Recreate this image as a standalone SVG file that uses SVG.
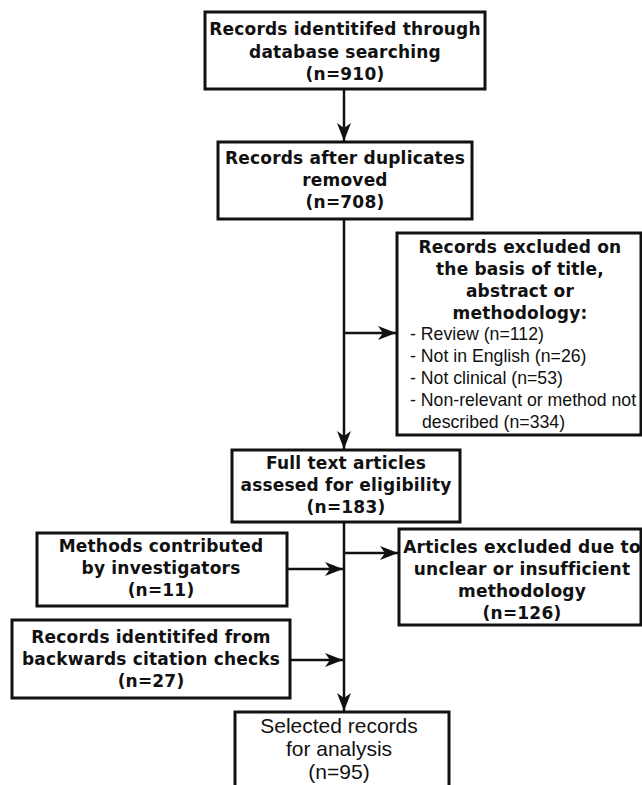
<svg xmlns="http://www.w3.org/2000/svg" width="642" height="785" viewBox="0 0 642 785">
<style>
.box{fill:#fff;stroke:#111;stroke-width:3}
.b{font-family:"DejaVu Sans",Verdana,sans-serif;font-weight:bold;font-size:17px;letter-spacing:0.2px;fill:#111;text-anchor:middle}
.n{font-family:"Liberation Sans",Arial,sans-serif;font-size:17.7px;fill:#111}
.s{font-family:"Liberation Sans",Arial,sans-serif;font-size:21px;fill:#111;text-anchor:middle}
.c{fill:none;stroke:#111;stroke-width:2.5}
</style>
<defs>
<marker id="ah" viewBox="0 0 18 14" refX="18" refY="7" markerWidth="18" markerHeight="14" markerUnits="userSpaceOnUse" orient="auto">
<path d="M0,0 L18,7 L0,14 L5,7 Z" fill="#111"/>
</marker>
</defs>
<g id="connectors">
<line class="c" x1="344" y1="89" x2="344" y2="141" marker-end="url(#ah)"/>
<line class="c" x1="344" y1="219" x2="344" y2="449" marker-end="url(#ah)"/>
<line class="c" x1="344" y1="333" x2="396" y2="333" marker-end="url(#ah)"/>
<line class="c" x1="344" y1="522" x2="344" y2="711" marker-end="url(#ah)"/>
<line class="c" x1="344" y1="553" x2="398" y2="553" marker-end="url(#ah)"/>
<line class="c" x1="287" y1="569" x2="343" y2="569" marker-end="url(#ah)"/>
<line class="c" x1="290" y1="660" x2="343" y2="660" marker-end="url(#ah)"/>
</g>
<g id="n1">
<rect class="box" x="205" y="12" width="280" height="77"/>
<text class="b" x="345" y="35">Records identitifed through</text>
<text class="b" x="345" y="58">database searching</text>
<text class="b" x="345" y="80">(n=910)</text>
</g>
<g id="n2">
<rect class="box" x="218" y="142" width="254" height="77"/>
<text class="b" x="345" y="164">Records after duplicates</text>
<text class="b" x="345" y="186">removed</text>
<text class="b" x="345" y="208">(n=708)</text>
</g>
<g id="n3">
<rect class="box" x="397" y="233" width="244" height="202"/>
<text class="b" x="520" y="253">Records excluded on</text>
<text class="b" x="520" y="275">the basis of title,</text>
<text class="b" x="520" y="297">abstract or</text>
<text class="b" x="520" y="319">methodology:</text>
<text class="n" x="410" y="340">- Review (n=112)</text>
<text class="n" x="410" y="362">- Not in English (n=26)</text>
<text class="n" x="410" y="384">- Not clinical (n=53)</text>
<text class="n" x="410" y="406">- Non-relevant or method not</text>
<text class="n" x="422" y="428">described (n=334)</text>
</g>
<g id="n4">
<rect class="box" x="232" y="450" width="228" height="72"/>
<text class="b" x="346" y="469">Full text articles</text>
<text class="b" x="346" y="491">assesed for eligibility</text>
<text class="b" x="346" y="513">(n=183)</text>
</g>
<g id="n5">
<rect class="box" x="37" y="533" width="250" height="73"/>
<text class="b" x="161" y="552">Methods contributed</text>
<text class="b" x="161" y="574">by investigators</text>
<text class="b" x="161" y="596">(n=11)</text>
</g>
<g id="n6">
<rect class="box" x="12" y="620" width="278" height="78"/>
<text class="b" x="151" y="643">Records identitifed from</text>
<text class="b" x="151" y="665">backwards citation checks</text>
<text class="b" x="151" y="687">(n=27)</text>
</g>
<g id="n7">
<rect class="box" x="399" y="529" width="242" height="96"/>
<text class="b" x="522" y="553">Articles excluded due to</text>
<text class="b" x="522" y="575">unclear or insufficient</text>
<text class="b" x="522" y="597">methodology</text>
<text class="b" x="522" y="619">(n=126)</text>
</g>
<g id="n8">
<rect class="box" x="235" y="712" width="214" height="80"/>
<text class="s" x="339" y="733">Selected records</text>
<text class="s" x="339" y="756">for analysis</text>
<text class="s" x="339" y="779">(n=95)</text>
</g>
</svg>
